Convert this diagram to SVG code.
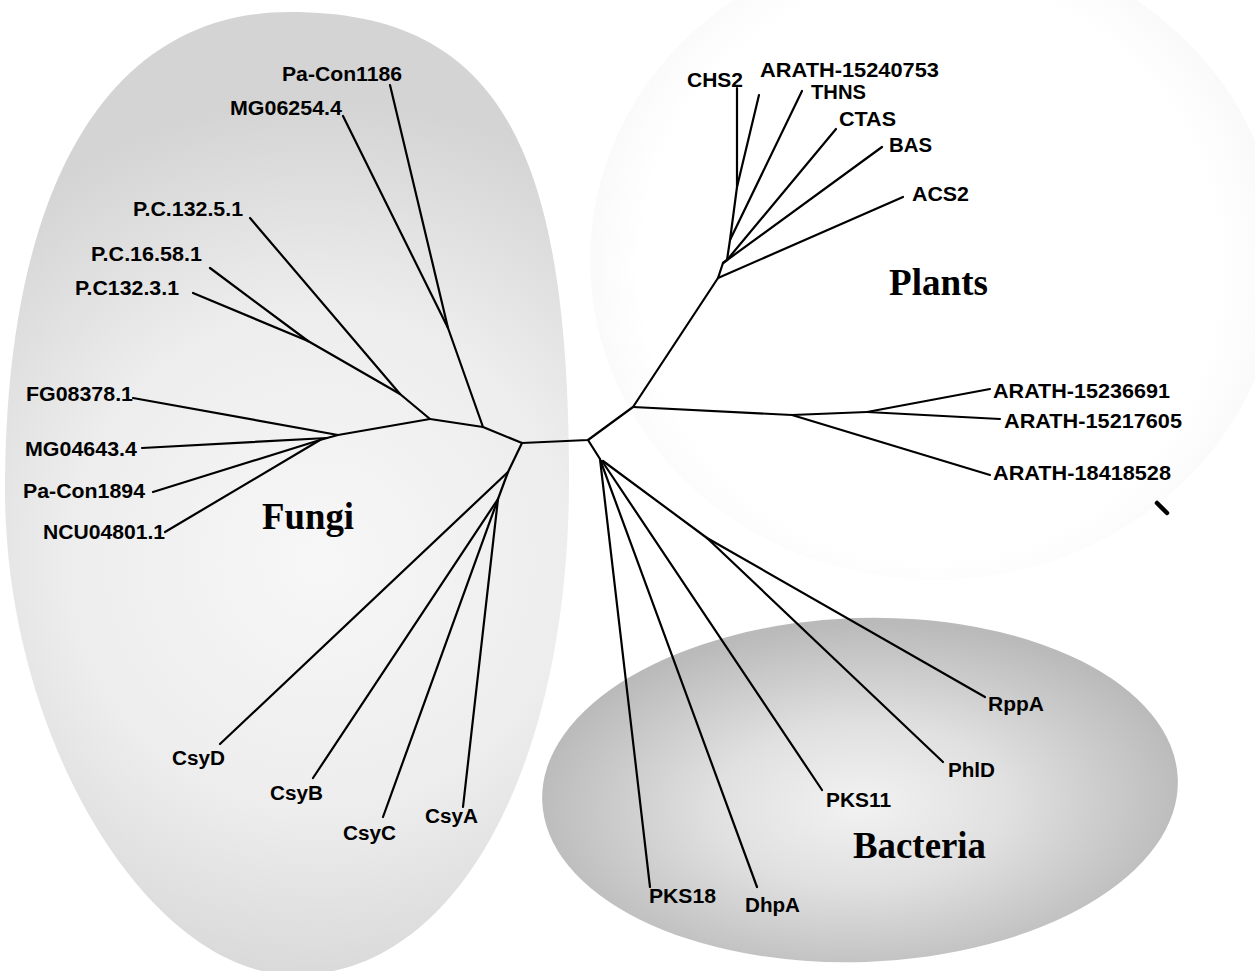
<svg xmlns="http://www.w3.org/2000/svg" width="1255" height="971" viewBox="0 0 1255 971">
<style>
.lbl{font-family:"Liberation Sans",Arial,sans-serif;font-weight:bold;font-size:20px;fill:#000;}
.grp{font-family:"Liberation Serif","Times New Roman",serif;font-weight:bold;font-size:37px;fill:#000;}
.br{stroke:#000;stroke-width:2.2;fill:none;stroke-linecap:round;stroke-linejoin:round;}
</style>
<defs>
<radialGradient id="gFungi" gradientUnits="userSpaceOnUse" cx="320" cy="560" r="460">
<stop offset="0" stop-color="#f7f7f7"/>
<stop offset="0.55" stop-color="#ededed"/>
<stop offset="1" stop-color="#d4d4d4"/>
</radialGradient>
<radialGradient id="gBact" gradientUnits="userSpaceOnUse" cx="860" cy="805" r="330" gradientTransform="translate(860 805) scale(1 0.55) translate(-860 -805)">
<stop offset="0" stop-color="#f2f2f2"/>
<stop offset="0.45" stop-color="#e0e0e0"/>
<stop offset="1" stop-color="#bababa"/>
</radialGradient>
<radialGradient id="gPlant" gradientUnits="userSpaceOnUse" cx="930" cy="270" r="360">
<stop offset="0" stop-color="#ffffff"/>
<stop offset="0.8" stop-color="#ffffff"/>
<stop offset="1" stop-color="#f8f8f8"/>
</radialGradient>
</defs>
<rect width="1255" height="971" fill="#ffffff"/>
<g id="regions">
<ellipse id="plants-region" cx="935" cy="260" rx="345" ry="320" fill="url(#gPlant)"/>
<path id="fungi-region" d="M290,12 C500,12 569,150 569,480 C569,760 460,975 295,975 C150,975 5,740 5,490 C5,200 100,12 290,12 Z" fill="url(#gFungi)"/>
<ellipse id="bacteria-region" cx="860" cy="790" rx="318" ry="172" transform="rotate(-2 860 790)" fill="url(#gBact)"/>
</g>
<g id="connectors" class="br">
<polyline points="430,419 483,427 522,443 588,440 633,407 718,278"/>
<line x1="633" y1="407" x2="792" y2="415"/>
<line x1="588" y1="440" x2="600" y2="459"/>
<polyline points="390,85 448,328 483,427"/>
<line x1="343" y1="116" x2="448" y2="328"/>
<line x1="250" y1="218" x2="400" y2="394"/>
<line x1="210" y1="268" x2="308" y2="341"/>
<line x1="193" y1="293" x2="308" y2="341"/>
<polyline points="308,341 400,394 430,419 338,435 327,438 320,440"/>
<line x1="133" y1="398" x2="338" y2="435"/>
<line x1="142" y1="448" x2="327" y2="438"/>
<line x1="153" y1="492" x2="320" y2="440"/>
<line x1="165" y1="532" x2="320" y2="440"/>
<polyline points="522,443 508,472 498,499"/>
<line x1="508" y1="472" x2="220" y2="744"/>
<line x1="498" y1="499" x2="313" y2="778"/>
<line x1="498" y1="499" x2="383" y2="817"/>
<line x1="498" y1="499" x2="463" y2="807"/>
<polyline points="718,278 723,263 727,260 730,240 737,187 737,88"/>
<line x1="718" y1="278" x2="903" y2="197"/>
<line x1="723" y1="263" x2="882" y2="147"/>
<line x1="727" y1="260" x2="836" y2="129"/>
<line x1="730" y1="240" x2="802" y2="91"/>
<line x1="737" y1="187" x2="759" y2="95"/>
<line x1="792" y1="415" x2="867" y2="412"/>
<line x1="792" y1="415" x2="990" y2="475"/>
<line x1="867" y1="412" x2="990" y2="389"/>
<line x1="867" y1="412" x2="1000" y2="419"/>
<line x1="600" y1="459" x2="650" y2="887"/>
<line x1="601" y1="462" x2="757" y2="887"/>
<line x1="602" y1="461" x2="822" y2="790"/>
<line x1="603" y1="461" x2="707" y2="538"/>
<line x1="707" y1="538" x2="985" y2="697"/>
<line x1="707" y1="538" x2="943" y2="762"/>
<line x1="1157" y1="503" x2="1167" y2="513" stroke-width="4.5"/>
</g>
<g id="group-labels">
<text class="grp" x="889" y="295" textLength="99" lengthAdjust="spacingAndGlyphs">Plants</text>
<text class="grp" x="262" y="529" textLength="92" lengthAdjust="spacingAndGlyphs">Fungi</text>
<text class="grp" x="853" y="858" textLength="133" lengthAdjust="spacingAndGlyphs">Bacteria</text>
</g>
<g id="n-PaCon1186"><text class="lbl" x="282" y="81" textLength="120" lengthAdjust="spacingAndGlyphs">Pa-Con1186</text></g>
<g id="n-MG06254"><text class="lbl" x="230" y="115" textLength="112" lengthAdjust="spacingAndGlyphs">MG06254.4</text></g>
<g id="n-PC13251"><text class="lbl" x="133" y="216" textLength="110" lengthAdjust="spacingAndGlyphs">P.C.132.5.1</text></g>
<g id="n-PC16581"><text class="lbl" x="91" y="261" textLength="111" lengthAdjust="spacingAndGlyphs">P.C.16.58.1</text></g>
<g id="n-PC13231"><text class="lbl" x="75" y="295" textLength="104" lengthAdjust="spacingAndGlyphs">P.C132.3.1</text></g>
<g id="n-FG08378"><text class="lbl" x="26" y="401" textLength="107" lengthAdjust="spacingAndGlyphs">FG08378.1</text></g>
<g id="n-MG04643"><text class="lbl" x="25" y="456" textLength="112" lengthAdjust="spacingAndGlyphs">MG04643.4</text></g>
<g id="n-PaCon1894"><text class="lbl" x="23" y="498" textLength="122" lengthAdjust="spacingAndGlyphs">Pa-Con1894</text></g>
<g id="n-NCU04801"><text class="lbl" x="43" y="539" textLength="122" lengthAdjust="spacingAndGlyphs">NCU04801.1</text></g>
<g id="n-CsyD"><text class="lbl" x="172" y="765" textLength="53" lengthAdjust="spacingAndGlyphs">CsyD</text></g>
<g id="n-CsyB"><text class="lbl" x="270" y="800" textLength="53" lengthAdjust="spacingAndGlyphs">CsyB</text></g>
<g id="n-CsyC"><text class="lbl" x="343" y="840" textLength="53" lengthAdjust="spacingAndGlyphs">CsyC</text></g>
<g id="n-CsyA"><text class="lbl" x="425" y="823" textLength="53" lengthAdjust="spacingAndGlyphs">CsyA</text></g>
<g id="n-CHS2"><text class="lbl" x="687" y="87" textLength="56" lengthAdjust="spacingAndGlyphs">CHS2</text></g>
<g id="n-ARATH15240753"><text class="lbl" x="760" y="77" textLength="179" lengthAdjust="spacingAndGlyphs">ARATH-15240753</text></g>
<g id="n-THNS"><text class="lbl" x="811" y="99" textLength="55" lengthAdjust="spacingAndGlyphs">THNS</text></g>
<g id="n-CTAS"><text class="lbl" x="839" y="126" textLength="57" lengthAdjust="spacingAndGlyphs">CTAS</text></g>
<g id="n-BAS"><text class="lbl" x="889" y="152" textLength="43" lengthAdjust="spacingAndGlyphs">BAS</text></g>
<g id="n-ACS2"><text class="lbl" x="912" y="201" textLength="57" lengthAdjust="spacingAndGlyphs">ACS2</text></g>
<g id="n-ARATH15236691"><text class="lbl" x="993" y="398" textLength="177" lengthAdjust="spacingAndGlyphs">ARATH-15236691</text></g>
<g id="n-ARATH15217605"><text class="lbl" x="1004" y="428" textLength="178" lengthAdjust="spacingAndGlyphs">ARATH-15217605</text></g>
<g id="n-ARATH18418528"><text class="lbl" x="993" y="480" textLength="178" lengthAdjust="spacingAndGlyphs">ARATH-18418528</text></g>
<g id="n-RppA"><text class="lbl" x="988" y="711" textLength="56" lengthAdjust="spacingAndGlyphs">RppA</text></g>
<g id="n-PhlD"><text class="lbl" x="948" y="777" textLength="47" lengthAdjust="spacingAndGlyphs">PhlD</text></g>
<g id="n-PKS11"><text class="lbl" x="826" y="807" textLength="65" lengthAdjust="spacingAndGlyphs">PKS11</text></g>
<g id="n-PKS18"><text class="lbl" x="649" y="903" textLength="67" lengthAdjust="spacingAndGlyphs">PKS18</text></g>
<g id="n-DhpA"><text class="lbl" x="745" y="912" textLength="55" lengthAdjust="spacingAndGlyphs">DhpA</text></g>
</svg>
